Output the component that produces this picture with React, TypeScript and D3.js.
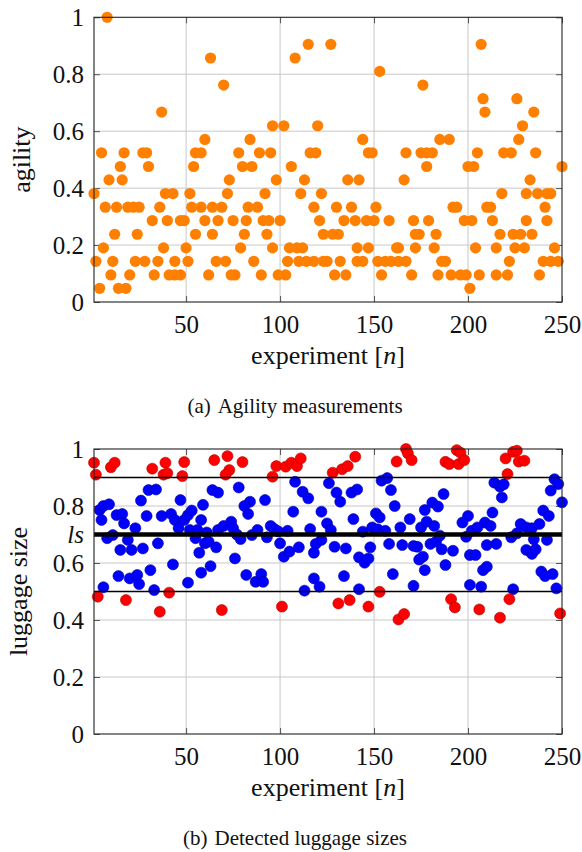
import React, { useEffect, useRef } from 'react';
import * as d3 from 'd3';

// experiment number, agility value (k/21 steps)
const agilityPoints: [number, number][] = [
  [1, 0.381], [2, 0.143], [4, 0.048], [5, 0.524], [6, 0.19], [7, 0.333], [8, 1], [9, 0.429], [10, 0.095],
  [11, 0.143], [12, 0.238], [13, 0.333], [14, 0.048], [15, 0.476], [16, 0.429], [17, 0.524], [18, 0.048],
  [19, 0.333], [20, 0.095], [22, 0.333], [23, 0.143], [24, 0.238], [25, 0.333], [27, 0.524], [28, 0.143],
  [29, 0.524], [30, 0.476], [32, 0.286], [33, 0.095], [35, 0.143], [36, 0.333], [37, 0.667], [38, 0.19],
  [39, 0.381], [40, 0.286], [41, 0.095], [43, 0.381], [44, 0.143], [44, 0.095], [47, 0.286], [47, 0.095],
  [49, 0.286], [50, 0.19], [51, 0.143], [52, 0.381], [53, 0.333], [54, 0.476], [55, 0.524], [55, 0.238],
  [58, 0.524], [58, 0.333], [60, 0.571], [60, 0.286], [62, 0.095], [63, 0.857], [64, 0.333], [64, 0.238],
  [66, 0.143], [67, 0.286], [69, 0.333], [70, 0.762], [71, 0.143], [72, 0.381], [73, 0.429], [74, 0.095],
  [75, 0.286], [76, 0.095], [78, 0.524], [79, 0.19], [80, 0.476], [81, 0.238], [82, 0.286], [83, 0.333],
  [84, 0.571], [85, 0.476], [86, 0.143], [88, 0.333], [89, 0.524], [90, 0.095], [91, 0.286], [92, 0.381],
  [93, 0.238], [94, 0.286], [95, 0.524], [96, 0.619], [96, 0.19], [98, 0.429], [99, 0.095], [100, 0.286],
  [102, 0.619], [103, 0.095], [104, 0.143], [105, 0.19], [106, 0.476], [108, 0.857], [109, 0.19], [110, 0.143],
  [111, 0.381], [112, 0.19], [113, 0.429], [114, 0.143], [115, 0.905], [116, 0.524], [118, 0.143], [118, 0.333],
  [119, 0.524], [120, 0.619], [121, 0.286], [122, 0.381], [123, 0.238], [123, 0.143], [125, 0.143], [127, 0.905],
  [128, 0.238], [129, 0.095], [130, 0.333], [131, 0.238], [132, 0.143], [134, 0.286], [135, 0.095], [136, 0.429],
  [138, 0.333], [140, 0.286], [141, 0.19], [141, 0.143], [142, 0.429], [144, 0.571], [144, 0.143], [146, 0.286],
  [147, 0.524], [147, 0.19], [149, 0.524], [150, 0.286], [151, 0.333], [152, 0.143], [153, 0.81], [154, 0.095],
  [156, 0.143], [158, 0.286], [159, 0.143], [162, 0.19], [163, 0.19], [163, 0.143], [166, 0.429], [167, 0.524],
  [167, 0.143], [170, 0.095], [171, 0.286], [172, 0.238], [172, 0.19], [174, 0.238], [175, 0.524], [176, 0.762],
  [178, 0.524], [178, 0.476], [179, 0.286], [181, 0.524], [182, 0.19], [183, 0.238], [184, 0.095], [185, 0.571],
  [186, 0.143], [188, 0.143], [190, 0.571], [191, 0.095], [192, 0.333], [194, 0.333], [196, 0.095], [198, 0.286],
  [199, 0.095], [200, 0.476], [201, 0.048], [202, 0.286], [203, 0.476], [204, 0.19], [205, 0.524], [206, 0.095],
  [207, 0.905], [208, 0.714], [209, 0.667], [210, 0.333], [212, 0.333], [213, 0.286], [215, 0.19], [215, 0.095],
  [217, 0.238], [218, 0.381], [219, 0.524], [221, 0.095], [222, 0.143], [223, 0.524], [224, 0.238], [225, 0.19],
  [226, 0.714], [227, 0.571], [228, 0.238], [229, 0.619], [230, 0.19], [231, 0.381], [231, 0.286], [233, 0.429],
  [234, 0.238], [235, 0.667], [236, 0.524], [237, 0.381], [238, 0.095], [240, 0.143], [241, 0.333], [242, 0.381],
  [242, 0.286], [244, 0.381], [244, 0.143], [246, 0.19], [248, 0.143], [250, 0.476],
];

// experiment number, detected luggage size
const luggagePoints: [number, number][] = [
  [1, 0.952], [2, 0.91], [10, 0.936], [12, 0.952], [32, 0.931], [39, 0.952], [38, 0.91], [40, 0.915], [49, 0.954],
  [48, 0.905], [30, 0.856], [34, 0.858], [26, 0.819], [47, 0.821], [4, 0.786], [6, 0.8], [9, 0.806], [5, 0.751],
  [13, 0.768], [16, 0.772], [17, 0.739], [29, 0.765], [37, 0.765], [42, 0.772], [44, 0.751], [49, 0.751], [51, 0.768],
  [53, 0.784], [58, 0.751], [59, 0.804], [23, 0.722], [46, 0.722], [8, 0.687], [11, 0.698], [19, 0.681], [52, 0.716],
  [56, 0.716], [55, 0.687], [60, 0.669], [15, 0.646], [21, 0.646], [27, 0.651], [35, 0.669], [57, 0.636], [43, 0.595],
  [31, 0.575], [58, 0.566], [14, 0.554], [20, 0.546], [24, 0.558], [25, 0.526], [6, 0.515], [51, 0.531], [33, 0.505],
  [3, 0.482], [18, 0.47], [41, 0.496], [36, 0.429],
  [65, 0.961], [72, 0.975], [80, 0.954], [73, 0.926], [71, 0.91], [98, 0.94], [103, 0.938], [106, 0.952], [109, 0.94],
  [111, 0.967], [96, 0.903], [64, 0.856], [67, 0.847], [78, 0.865], [108, 0.885], [112, 0.85], [115, 0.827], [84, 0.815],
  [81, 0.8], [83, 0.772], [92, 0.821], [107, 0.78], [122, 0.78], [61, 0.707], [67, 0.716], [70, 0.73], [74, 0.745],
  [75, 0.722], [77, 0.7], [79, 0.684], [85, 0.698], [88, 0.716], [93, 0.69], [95, 0.73], [97, 0.719], [99, 0.711],
  [104, 0.713], [100, 0.669], [102, 0.622], [105, 0.64], [110, 0.655], [116, 0.719], [119, 0.667], [118, 0.636],
  [122, 0.681], [62, 0.675], [66, 0.655], [76, 0.616], [63, 0.589], [82, 0.558], [87, 0.534], [90, 0.561], [91, 0.534],
  [113, 0.503], [118, 0.546], [121, 0.517], [69, 0.435], [101, 0.447],
  [128, 0.917], [133, 0.929], [136, 0.94], [140, 0.973], [162, 0.956], [167, 1.0], [168, 0.985], [170, 0.961],
  [126, 0.88], [130, 0.847], [132, 0.815], [138, 0.847], [141, 0.858], [154, 0.889], [157, 0.898], [159, 0.856],
  [161, 0.8], [125, 0.739], [127, 0.716], [139, 0.754], [151, 0.774], [153, 0.76], [144, 0.71], [149, 0.725],
  [152, 0.718], [156, 0.713], [164, 0.725], [169, 0.754], [175, 0.725], [178, 0.745], [181, 0.812], [184, 0.798],
  [177, 0.786], [182, 0.73], [129, 0.657], [135, 0.651], [148, 0.655], [142, 0.62], [145, 0.601], [147, 0.616],
  [158, 0.667], [165, 0.663], [171, 0.66], [173, 0.657], [180, 0.667], [183, 0.675], [174, 0.612], [176, 0.622],
  [177, 0.575], [134, 0.554], [160, 0.561], [142, 0.508], [171, 0.52], [131, 0.458], [137, 0.47], [147, 0.447],
  [153, 0.499], [163, 0.402], [166, 0.421],
  [188, 0.955], [190, 0.947], [194, 0.996], [196, 0.987], [195, 0.947], [198, 0.961], [220, 0.967], [221, 0.912],
  [224, 0.99], [226, 0.994], [227, 0.956], [230, 0.959], [187, 0.842], [214, 0.882], [217, 0.868], [219, 0.876],
  [218, 0.83], [246, 0.894], [248, 0.877], [244, 0.854], [250, 0.813], [200, 0.765], [197, 0.742], [213, 0.777],
  [209, 0.742], [212, 0.73], [240, 0.784], [243, 0.765], [228, 0.737], [231, 0.725], [234, 0.722], [238, 0.737],
  [185, 0.696], [199, 0.692], [202, 0.713], [205, 0.725], [223, 0.69], [226, 0.704], [235, 0.683], [242, 0.681],
  [186, 0.648], [192, 0.643], [210, 0.663], [215, 0.667], [231, 0.646], [234, 0.632], [236, 0.648], [201, 0.628],
  [204, 0.628], [188, 0.593], [208, 0.575], [210, 0.587], [239, 0.57], [241, 0.554], [245, 0.561], [201, 0.523],
  [207, 0.517], [224, 0.508], [247, 0.511], [191, 0.473], [193, 0.444], [206, 0.437], [217, 0.408], [222, 0.473],
  [249, 0.423],
];

const xTicks = [50, 100, 150, 200, 250];
const agilityTicks = [0, 0.2, 0.4, 0.6, 0.8, 1];
const luggageTicks = [0, 0.2, 0.4, 0.6, 0.7, 0.8, 1];
const luggageGrid = [0.2, 0.4, 0.6, 0.8];
const luggageLow = 0.5;
const luggageHigh = 0.9;
const luggageLs = 0.7;

const serif = 'Liberation Serif';
const plotLeft = 94;
const plotRight = 562;

function drawPanel(svg: any, cfg: any) {
  const x = d3.scaleLinear().domain([1, 250]).range([plotLeft, plotRight]);
  const y = d3.scaleLinear().domain([0, 1]).range([cfg.bottom, cfg.top]);
  const g = svg.append('g');

  // grid
  g.append('g').selectAll('line').data(xTicks.filter(t => t < 250)).join('line')
    .attr('x1', d => x(d)).attr('x2', d => x(d))
    .attr('y1', y(0)).attr('y2', y(1))
    .attr('stroke', '#c8c8c8').attr('stroke-width', 1);
  g.append('g').selectAll('line').data(cfg.grid).join('line')
    .attr('x1', plotLeft).attr('x2', plotRight)
    .attr('y1', d => y(d)).attr('y2', d => y(d))
    .attr('stroke', '#c8c8c8').attr('stroke-width', 1);

  // axes with inward ticks
  const fmt = (d: number) => (Number.isInteger(d) ? String(d) : d.toFixed(1));
  g.append('g').attr('transform', `translate(0,${cfg.bottom})`)
    .call(d3.axisBottom(x).tickValues(xTicks).tickSizeInner(-6).tickSizeOuter(0).tickPadding(13.5).tickFormat(fmt as any));
  const leftAxis = g.append('g').attr('transform', `translate(${plotLeft},0)`)
    .call(d3.axisLeft(y).tickValues(cfg.yTicks).tickSizeInner(-6).tickSizeOuter(0).tickPadding(10).tickFormat(fmt as any));
  g.append('g').attr('transform', `translate(0,${cfg.top})`)
    .call(d3.axisTop(x).tickValues(xTicks).tickSizeInner(-6).tickSizeOuter(0).tickFormat(() => ''));
  g.append('g').attr('transform', `translate(${plotRight},0)`)
    .call(d3.axisRight(y).tickValues(cfg.yTicks).tickSizeInner(-6).tickSizeOuter(0).tickFormat(() => ''));
  g.selectAll('.domain').remove();
  g.selectAll('.tick line').attr('stroke', '#555');
  g.selectAll('g').attr('font-family', null).attr('font-size', null);
  g.selectAll('.tick text').attr('font-family', serif).style('font-family', serif)
    .style('font-size', '25px').attr('fill', '#111');
  leftAxis.selectAll('.tick').filter((d: number) => d === luggageLs && cfg.ls)
    .select('text').text('ls').style('font-style', 'italic');

  // marks
  const dots = g.append('g');
  if (cfg.type === 'agility') {
    dots.selectAll('circle').data(agilityPoints).join('circle')
      .attr('cx', d => x(d[0])).attr('cy', d => y(d[1])).attr('r', 5.6)
      .attr('fill', '#ff8000');
  } else {
    dots.selectAll('circle').data(luggagePoints).join('circle')
      .attr('cx', d => x(d[0])).attr('cy', d => y(d[1])).attr('r', 5.5)
      .attr('fill', d => (d[1] > luggageHigh || d[1] < luggageLow ? '#ff0000' : '#0000ff'))
      .attr('stroke', d => (d[1] > luggageHigh || d[1] < luggageLow ? '#b00000' : '#0000a0'))
      .attr('stroke-width', 0.6);
    g.append('g').selectAll('line').data([luggageHigh, luggageLs, luggageLow]).join('line')
      .attr('x1', plotLeft).attr('x2', plotRight)
      .attr('y1', d => y(d)).attr('y2', d => y(d))
      .attr('stroke', '#000').attr('stroke-width', d => (d === luggageLs ? 4.5 : 1.3));
  }

  // frame
  g.append('rect').attr('x', plotLeft).attr('y', cfg.top)
    .attr('width', plotRight - plotLeft).attr('height', cfg.bottom - cfg.top)
    .attr('fill', 'none').attr('stroke', '#222').attr('stroke-width', 1.1);

  // labels
  const xl = g.append('text').attr('x', (plotLeft + plotRight) / 2).attr('y', cfg.bottom + 62)
    .attr('text-anchor', 'middle').style('font-family', serif).style('font-size', '26px').attr('fill', '#111');
  xl.append('tspan').text('experiment [');
  xl.append('tspan').style('font-style', 'italic').text('n');
  xl.append('tspan').text(']');

  g.append('text').attr('transform', `translate(${cfg.yLabelX},${(cfg.top + cfg.bottom) / 2}) rotate(-90)`)
    .attr('text-anchor', 'middle').style('font-family', serif).style('font-size', '26px')
    .attr('fill', '#111').text(cfg.yLabel);

  const cap = g.append('text').attr('x', 295).attr('y', cfg.bottom + 111)
    .attr('text-anchor', 'middle').style('font-family', serif).style('font-size', '21px').attr('fill', '#111');
  cap.append('tspan').text(cfg.tag);
  cap.append('tspan').attr('dx', 7).text(cfg.caption);
}

function App() {
  const svgRef = useRef<SVGSVGElement>(null);

  useEffect(() => {
    const svg = d3.select(svgRef.current);
    svg.selectAll('*').remove();
    drawPanel(svg, {
      type: 'agility', top: 17.3, bottom: 302, yTicks: agilityTicks, grid: [0.2, 0.4, 0.6, 0.8],
      yLabel: 'agility', yLabelX: 30, tag: '(a)', caption: 'Agility measurements', ls: false,
    });
    drawPanel(svg, {
      type: 'luggage', top: 449, bottom: 734, yTicks: luggageTicks, grid: luggageGrid,
      yLabel: 'luggage size', yLabelX: 27, tag: '(b)', caption: 'Detected luggage sizes', ls: true,
    });
  }, []);

  return (
    <svg ref={svgRef} width={582} height={852}
      style={{ position: 'absolute', left: 0, top: 0, background: '#fff', fontFamily: serif }} />
  );
}

export default App;
